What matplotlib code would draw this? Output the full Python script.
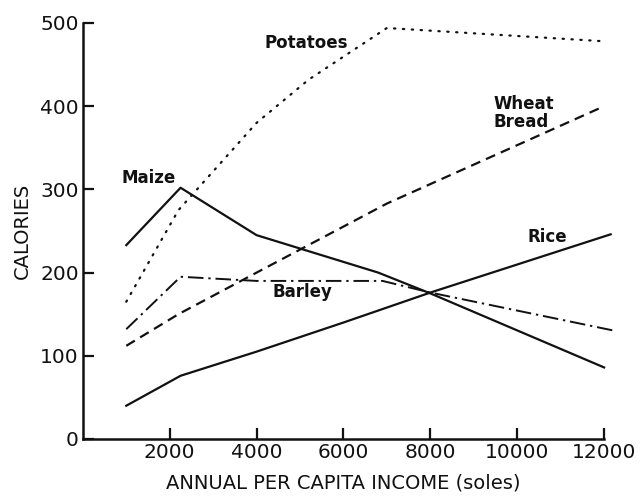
#!/usr/bin/env python
"""Calories from staple foods vs annual per capita income"""

import matplotlib as mpl
mpl.use('Agg')
import matplotlib.pyplot as plt

FIGSIZE = (6.42, 5.0)
INK = '#111111'

# income (soles) and calories
potato_x = [1000, 2200, 4000, 5200, 7000, 12000]
potato_y = [165, 275, 380, 432, 494, 478]

wheat_x = [1000, 2200, 4000, 7000, 12000]
wheat_y = [112, 150, 200, 283, 400]

maize_x = [1000, 2250, 4000, 6800, 8000, 12000]
maize_y = [233, 302, 245, 200, 175, 86]

rice_x = [1000, 2250, 4000, 6000, 8000, 12150]
rice_y = [40, 76, 105, 140, 176, 246]

barley_x = [1000, 2250, 4000, 6900, 8000, 12250]
barley_y = [132, 195, 190, 190, 176, 130]

labels = ['Potatoes', 'Wheat\nBread', 'Maize', 'Rice', 'Barley']
label_xy = [(5150, 476), (9450, 392), (1520, 314), (10700, 243), (5050, 177)]

x_ticks = [2000, 4000, 6000, 8000, 10000, 12000]
y_ticks = [0, 100, 200, 300, 400, 500]


def main():
    plt.rcParams['font.family'] = ['DejaVu Sans']
    fig = plt.figure(figsize=FIGSIZE, dpi=100)
    ax = fig.add_axes([0.129, 0.122, 0.812, 0.832])

    ax.plot(potato_x, potato_y, color=INK, lw=1.6, ls=(0, (0.6, 3.4)),
            dash_capstyle='round', clip_on=False)
    ax.plot(wheat_x, wheat_y, color=INK, lw=1.6, ls=(0, (4.5, 2.8)),
            clip_on=False)
    ax.plot(maize_x, maize_y, color=INK, lw=1.6, clip_on=False)
    ax.plot(rice_x, rice_y, color=INK, lw=1.6, clip_on=False)
    ax.plot(barley_x, barley_y, color=INK, lw=1.4,
            ls=(0, (8, 2.5, 1.2, 2.5)), clip_on=False)

    for txt, (x, y) in zip(labels, label_xy):
        ha = 'left' if 'Wheat' in txt else 'center'
        ax.text(x, y, txt, ha=ha, va='center', fontsize=12,
                fontweight='bold', color=INK, linespacing=0.95)

    ax.set_xlim(0, 12000)
    ax.set_ylim(0, 500)
    ax.set_xticks(x_ticks)
    ax.set_yticks(y_ticks)
    ax.set_xticklabels([str(v) for v in x_ticks])
    ax.set_yticklabels([str(v) for v in y_ticks])
    ax.tick_params(direction='in', length=8, width=1.6, labelsize=14.5,
                   colors=INK, pad=3)
    for side in ('top', 'right'):
        ax.spines[side].set_visible(False)
    for side in ('left', 'bottom'):
        ax.spines[side].set_linewidth(1.8)
        ax.spines[side].set_color(INK)

    ax.set_xlabel('ANNUAL PER CAPITA INCOME (soles)', fontsize=14,
                  color=INK, labelpad=8)
    ax.set_ylabel('CALORIES', fontsize=14, color=INK, labelpad=6)

    fig.savefig('out.png', dpi=100)


if __name__ == '__main__':
    main()
